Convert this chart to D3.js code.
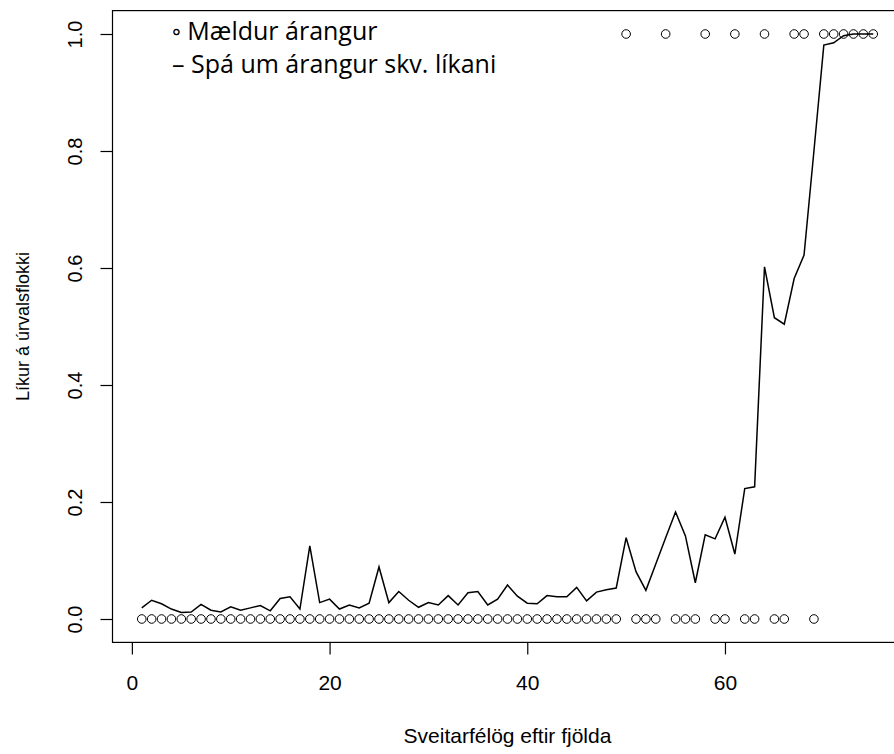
<!DOCTYPE html>
<html>
<head>
<meta charset="utf-8">
<script src="https://cdn.jsdelivr.net/npm/d3@7"></script>
<style>
  body { margin: 0; background: #fff; }
  svg { display: block; }
  .axis-text { font-family: "Liberation Sans", Arial, sans-serif; font-size: 21px; fill: #000; }
  .y-tick { font-size: 20px; }
  .y-title { font-size: 18px; }
  .legend-text { font-family: "Open Sans", Carlito, Calibri, sans-serif; font-size: 25px; fill: #000; }
</style>
</head>
<body>
<svg id="chart" width="894" height="754"></svg>
<script>
// observed outcome (0/1) per municipality, ordered by size (index 1..75)
const observed = [
  0, 0, 0, 0, 0, 0, 0, 0, 0, 0,
  0, 0, 0, 0, 0, 0, 0, 0, 0, 0,
  0, 0, 0, 0, 0, 0, 0, 0, 0, 0,
  0, 0, 0, 0, 0, 0, 0, 0, 0, 0,
  0, 0, 0, 0, 0, 0, 0, 0, 0, 1,
  0, 0, 0, 1, 0, 0, 0, 1, 0, 0,
  1, 0, 0, 1, 0, 0, 1, 1, 0, 1,
  1, 1, 1, 1, 1
]

// model prediction per municipality
const predicted = [
  0.019, 0.032, 0.026, 0.017, 0.011, 0.012, 0.025, 0.015, 0.012, 0.021,
  0.015, 0.019, 0.023, 0.014, 0.035, 0.038, 0.017, 0.125, 0.028, 0.034,
  0.017, 0.024, 0.019, 0.027, 0.089, 0.028, 0.047, 0.032, 0.020, 0.028,
  0.024, 0.040, 0.024, 0.045, 0.047, 0.024, 0.034, 0.058, 0.039, 0.027,
  0.026, 0.040, 0.038, 0.038, 0.054, 0.031, 0.046, 0.050, 0.053, 0.139,
  0.081, 0.049, 0.094, 0.139, 0.183, 0.142, 0.062, 0.144, 0.137, 0.174,
  0.111, 0.223, 0.226, 0.602, 0.515, 0.504, 0.582, 0.622, 0.800, 0.981,
  0.985, 0.997, 1.000, 1.000, 1.000
]

const xTicks = [0, 20, 40, 60]
const yTicks = [0, 0.2, 0.4, 0.6, 0.8, 1.0]
const legendLabels = ['\u25E6 Mældur árangur', '\u2013 Spá um árangur skv. líkani']
const xTitle = 'Sveitarfélög eftir fjölda'
const yTitle = 'Líkur á úrvalsflokki'

const svg = d3.select('#chart')

// R style 4% padding around the data range
const n = predicted.length
const padX = (n - 1) * 0.04
const xScale = d3.scaleLinear().domain([1 - padX, n + padX]).range([112.5, 902.5])
const yScale = d3.scaleLinear().domain([-0.04, 1.04]).range([642.4, 10.6])

// plot box (right side runs past the picture edge)
svg.append('rect')
  .attr('x', xScale.range()[0])
  .attr('y', yScale.range()[1])
  .attr('width', xScale.range()[1] - xScale.range()[0])
  .attr('height', yScale.range()[0] - yScale.range()[1])
  .attr('fill', 'none')
  .attr('stroke', '#000')
  .attr('stroke-width', 1.2)

// x axis
const xAxis = svg.append('g')
  .attr('transform', 'translate(0,' + yScale.range()[0] + ')')
  .call(d3.axisBottom(xScale).tickValues(xTicks).tickSize(12).tickPadding(36).tickFormat(d3.format('d')))
xAxis.select('.domain').remove()
xAxis.selectAll('line').attr('stroke-width', 1.2)
xAxis.selectAll('text').attr('class', 'axis-text').attr('dy', null)

// y axis, labels rotated like R's default
const yAxis = svg.append('g')
  .attr('transform', 'translate(' + xScale.range()[0] + ',0)')
  .call(d3.axisLeft(yScale).tickValues(yTicks).tickSize(12).tickFormat(d3.format('.1f')))
yAxis.select('.domain').remove()
yAxis.selectAll('line').attr('stroke-width', 1.2)
yAxis.selectAll('text')
  .attr('class', 'axis-text y-tick')
  .attr('x', null).attr('y', null).attr('dy', null)
  .attr('text-anchor', 'middle')
  .attr('transform', 'translate(-31,0) rotate(-90)')

// axis titles
svg.append('text')
  .attr('class', 'axis-text')
  .attr('x', (xScale.range()[0] + xScale.range()[1]) / 2)
  .attr('y', 743)
  .attr('text-anchor', 'middle')
  .text(xTitle)

svg.append('text')
  .attr('class', 'axis-text y-title')
  .attr('text-anchor', 'middle')
  .attr('transform', 'translate(29,' + (yScale.range()[0] + yScale.range()[1]) / 2 + ') rotate(-90)')
  .text(yTitle)

// fitted line
const line = d3.line()
  .x((d, i) => xScale(i + 1))
  .y(d => yScale(d))

svg.append('path')
  .datum(predicted)
  .attr('d', line)
  .attr('fill', 'none')
  .attr('stroke', '#000')
  .attr('stroke-width', 1.5)

// observed points
svg.append('g')
  .selectAll('circle')
  .data(observed)
  .enter()
  .append('circle')
  .attr('cx', (d, i) => xScale(i + 1))
  .attr('cy', d => yScale(d))
  .attr('r', 4.3)
  .attr('fill', 'none')
  .attr('stroke', '#000')
  .attr('stroke-width', 1)

// legend text (no box)
svg.append('g')
  .selectAll('text')
  .data(legendLabels)
  .enter()
  .append('text')
  .attr('class', 'legend-text')
  .attr('x', 172)
  .attr('y', (d, i) => 40 + i * 33)
  .text(d => d)
</script>
</body>
</html>
